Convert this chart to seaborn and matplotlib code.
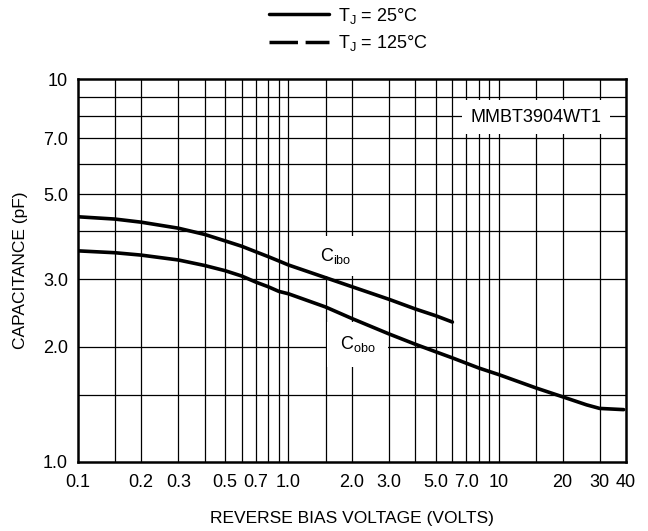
import numpy as np
import pandas as pd
import seaborn as sns
from matplotlib import pyplot as plt
from matplotlib.lines import Line2D

# curve data (volts, pF)
cibo_v = [0.1, 0.15, 0.2, 0.3, 0.4, 0.5, 0.6, 0.7, 0.8, 0.9, 1.0, 1.5, 2.0, 3.0, 4.0, 5.0, 6.0]
cibo_c = [4.37, 4.31, 4.23, 4.08, 3.93, 3.78, 3.66, 3.54, 3.44, 3.35, 3.27, 3.03, 2.87, 2.66,
          2.51, 2.41, 2.32]
cobo_v = [0.1, 0.15, 0.2, 0.3, 0.4, 0.5, 0.6, 0.7, 0.8, 0.9, 1.0, 1.5, 2.0, 3.0, 4.0, 5.0,
          6.0, 8.0, 10, 15, 20, 26, 30, 39]
cobo_c = [3.56, 3.52, 3.47, 3.37, 3.26, 3.16, 3.06, 2.95, 2.87, 2.79, 2.75, 2.54, 2.37, 2.16,
          2.03, 1.94, 1.87, 1.76, 1.69, 1.56, 1.48, 1.41, 1.38, 1.37]

x_ticks = [0.1, 0.2, 0.3, 0.5, 0.7, 1.0, 2.0, 3.0, 5.0, 7.0, 10, 20, 30, 40]
x_labels = ["0.1", "0.2", "0.3", "0.5", "0.7", "1.0", "2.0", "3.0", "5.0", "7.0",
            "10", "20", "30", "40"]
x_grid = [0.15, 0.2, 0.3, 0.4, 0.5, 0.6, 0.7, 0.8, 0.9, 1.0, 1.5, 2, 3, 4, 5, 6, 7, 8, 9,
          10, 15, 20, 30]
y_ticks = [1.0, 2.0, 3.0, 5.0, 7.0, 10]
y_labels = ["1.0", "2.0", "3.0", "5.0", "7.0", "10"]
y_grid = [1.5, 2, 3, 4, 5, 6, 7, 8, 9]

df = pd.concat([
    pd.DataFrame({"V": cibo_v, "C": cibo_c, "curve": "Cibo"}),
    pd.DataFrame({"V": cobo_v, "C": cobo_c, "curve": "Cobo"}),
])

sns.set_style("white")
plt.rcParams["font.family"] = ["Liberation Sans", "DejaVu Sans"]
plt.rcParams["mathtext.fontset"] = "custom"
plt.rcParams["mathtext.rm"] = "Liberation Sans"
plt.rcParams["text.color"] = "black"
plt.rcParams["axes.labelcolor"] = "black"
plt.rcParams["xtick.color"] = "black"
plt.rcParams["ytick.color"] = "black"

fs = 13
lab_fs = 12.5

fig = plt.figure(figsize=(6.48, 5.31), dpi=100)
ax = fig.add_axes([0.120, 0.130, 0.846, 0.721])

for name, grp in df.groupby("curve"):
    sns.lineplot(data=grp, x="V", y="C", ax=ax, color="black", linewidth=2.6,
                 legend=False, zorder=3)

ax.set_xscale("log")
ax.set_yscale("log")
ax.set_xlim(0.1, 40)
ax.set_ylim(1.0, 10)

for gx in x_grid:
    ax.axvline(gx, color="black", linewidth=0.9, zorder=1)
for gy in y_grid:
    ax.axhline(gy, color="black", linewidth=0.9, zorder=1)

ax.set_xticks(x_ticks)
ax.set_xticklabels(x_labels)
ax.set_yticks(y_ticks)
ax.set_yticklabels(y_labels)
ax.minorticks_off()
ax.tick_params(axis="both", length=0, labelsize=fs)
ax.tick_params(axis="x", pad=9)
ax.tick_params(axis="y", pad=7)
for s in ax.spines.values():
    s.set_linewidth(1.8)
    s.set_color("black")

ax.set_xlabel("REVERSE BIAS VOLTAGE (VOLTS)", fontsize=lab_fs, labelpad=14)
ax.set_ylabel("CAPACITANCE (pF)", fontsize=lab_fs, labelpad=11)

ax.text(1.68, 3.45, r"C$_\mathregular{ibo}$", fontsize=fs, ha="center", va="center",
        bbox=dict(facecolor="white", edgecolor="none", pad=7), zorder=2)
ax.text(2.13, 2.03, r"C$_\mathregular{obo}$", fontsize=fs, ha="center", va="center",
        bbox=dict(facecolor="white", edgecolor="none", pad=9), zorder=2)
ax.text(15.0, 7.96, "MMBT3904WT1", fontsize=fs, ha="center", va="center",
        bbox=dict(facecolor="white", edgecolor="none", pad=6), zorder=2)

handles = [Line2D([], [], color="black", linewidth=2.5, linestyle="-"),
           Line2D([], [], color="black", linewidth=2.5, linestyle=(0, (8.2, 2.2)))]
fig.legend(handles, [r"T$_\mathregular{J}$ = 25°C", r"T$_\mathregular{J}$ = 125°C"],
           loc="upper left", bbox_to_anchor=(0.39, 1.02), frameon=False,
           fontsize=fs, handlelength=3.3, handletextpad=0.5, labelspacing=0.4)

fig.savefig("out.png", dpi=100)
